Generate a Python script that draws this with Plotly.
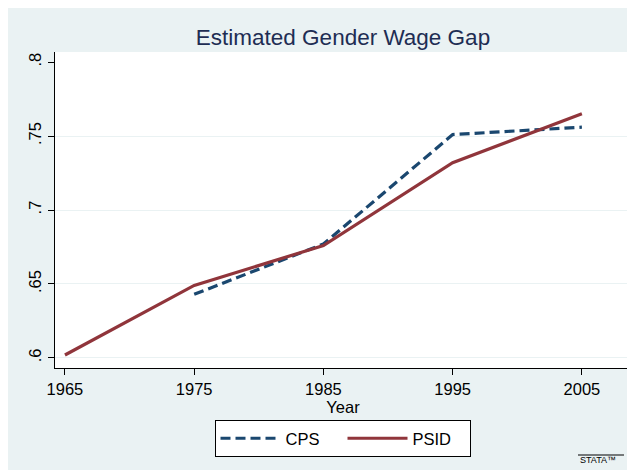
import plotly.graph_objects as go

# Data
psid_years = [1965, 1975, 1985, 1995, 2005]
psid_values = [0.602, 0.649, 0.676, 0.732, 0.765]
cps_years = [1975, 1985, 1995, 2005]
cps_values = [0.643, 0.677, 0.751, 0.756]

y_tickvals = [0.6, 0.65, 0.7, 0.75, 0.8]
y_ticktext = [".6", ".65", ".7", ".75", ".8"]
x_tickvals = [1965, 1975, 1985, 1995, 2005]

BG = "#EAF2F3"
FONT = "Liberation Sans, Arial, Helvetica, sans-serif"

W, H = 627, 462
ML, MT, MR, MB = 47, 44, 4, 102
PW, PH = W - ML - MR, H - MT - MB  # 576 x 316

fig = go.Figure()
fig.add_trace(go.Scatter(
    x=cps_years, y=cps_values, name="CPS", mode="lines",
    line=dict(color="#1a476f", width=3.2, dash="10px,5px"),
))
fig.add_trace(go.Scatter(
    x=psid_years, y=psid_values, name="PSID", mode="lines",
    line=dict(color="#90353b", width=3.2),
))
# invisible trace on overlay axis for gridlines
fig.add_trace(go.Scatter(x=[], y=[], yaxis="y2", showlegend=False, hoverinfo="skip"))

fig.update_layout(
    width=W, height=H,
    margin=dict(l=ML, r=MR, t=MT, b=MB),
    paper_bgcolor=BG,
    plot_bgcolor="white",
    font=dict(family=FONT, color="black", size=16),
    title=dict(
        text="Estimated Gender Wage Gap",
        x=(ML + PW / 2) / W, xanchor="center",
        y=1 - 29 / H, yanchor="middle",
        font=dict(size=22.5, color="#1e2d53", family=FONT),
    ),
    xaxis=dict(
        range=[1964.23, 2008.8],
        tickvals=x_tickvals,
        ticks="outside", ticklen=6, tickcolor="black",
        showline=True, linecolor="black", linewidth=1,
        showgrid=False, zeroline=False,
        tickfont=dict(size=16.5),
        title=dict(text="Year", standoff=1, font=dict(size=16.5)),
        automargin=False,
    ),
    yaxis=dict(
        range=[0.5932, 0.8068],
        tickvals=y_tickvals, ticktext=y_ticktext,
        tickangle=-90,
        ticks="outside", ticklen=6, tickcolor="black",
        showline=True, linecolor="black", linewidth=1,
        showgrid=False, zeroline=False,
        tickfont=dict(size=16.5),
        automargin=False,
    ),
    yaxis2=dict(
        range=[0.5932, 0.8068], overlaying="y", side="left",
        tickvals=y_tickvals[:-1], showticklabels=False, ticks="",
        showgrid=True, gridcolor=BG, gridwidth=1, zeroline=False,
        showline=False,
    ),
    legend=dict(
        orientation="h",
        x=(334.5 - ML) / PW, xanchor="center",
        y=(368 - 420) / PH, yanchor="top",
        bgcolor="white", bordercolor="black", borderwidth=1,
        font=dict(size=16.5),
        traceorder="normal",
        itemwidth=60,
        entrywidth=52,
        tracegroupgap=0,
    ),
    showlegend=True,
    shapes=[
        # logo overline
        dict(type="line", xref="paper", yref="paper",
             x0=(578 - 55) / PW, x1=(624 - 55) / PW,
             y0=(368 - 455) / PH, y1=(368 - 455) / PH,
             line=dict(color="black", width=1)),
    ],
    annotations=[
        dict(text="STATA™", xref="paper", yref="paper",
             x=(578 - 55) / PW, xanchor="left",
             y=(368 - 460) / PH, yanchor="middle",
             showarrow=False, font=dict(size=9, color="black", family=FONT)),
    ],
)

fig.write_html("out.html")
